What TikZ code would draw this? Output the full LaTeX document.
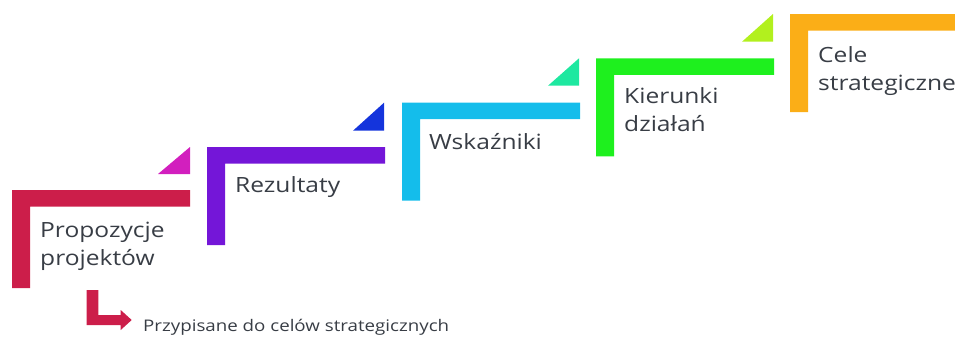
\documentclass[tikz,border=0pt]{standalone}
\usepackage{fontspec}
\setmainfont{Open Sans}
\newfontfamily\widefont[FakeStretch=1.17]{Open Sans}
\definecolor{cA}{HTML}{CC1E4A}
\definecolor{tA}{HTML}{D21FBE}
\definecolor{cB}{HTML}{7416D8}
\definecolor{tB}{HTML}{1434DC}
\definecolor{cC}{HTML}{14BDEB}
\definecolor{tC}{HTML}{1EE8A0}
\definecolor{cD}{HTML}{1EF01E}
\definecolor{tD}{HTML}{B2F01E}
\definecolor{cE}{HTML}{FBAE17}
\definecolor{txt}{HTML}{383D45}
\tikzset{
  lbl/.style={anchor=base west, inner sep=0pt, text=txt, font=\widefont\fontsize{21}{28}\selectfont, align=left},
  small/.style={anchor=base west, inner sep=0pt, text=txt, font=\widefont\fontsize{16}{18}\selectfont}
}
\begin{document}
\begin{tikzpicture}[x=1pt,y=-1pt]
\useasboundingbox (0,0) rectangle (955,338);
\begin{scope}
\clip (0,0) rectangle (955,338);
% steps: x, y(top), bar colour
\foreach \x/\y/\c in {12/190/cA, 207/147/cB, 402/102.5/cC, 596/58.3/cD, 790/14/cE}{
  \fill[\c] (\x,\y) -- (\x+178,\y) -- (\x+178,\y+16.5) -- (\x+18,\y+16.5) -- (\x+18,\y+98) -- (\x,\y+98) -- cycle;
}
\fill[tA] (158,174) -- (190,147) -- (190,174) -- cycle;
\fill[tB] (353,130.7) -- (384,102.7) -- (384,130.7) -- cycle;
\fill[tC] (548,85.7) -- (579,58.3) -- (579,85.7) -- cycle;
\fill[tD] (742,41.7) -- (773,14) -- (773,41.7) -- cycle;
\node[lbl] (p) at (40,265) {Propozycje\\projektów};
\node[lbl] (r) at (235,192) {Rezultaty};
\node[lbl] (w) at (429,149) {Wskaźniki};
\node[lbl] (k) at (624,131.7) {Kierunki\\działań};
\node[lbl] (c) at (818,90) {Cele\\strategiczne};
\node[small] (s) at (143,331.7) {Przypisane do celów strategicznych};
\fill[cA] (86.7,290) -- (98.3,290) -- (98.3,315) -- (120.7,315) -- (120.7,310) -- (131.7,320) -- (120.7,330) -- (120.7,325) -- (86.7,325) -- cycle;
\end{scope}
\end{tikzpicture}
\end{document}
